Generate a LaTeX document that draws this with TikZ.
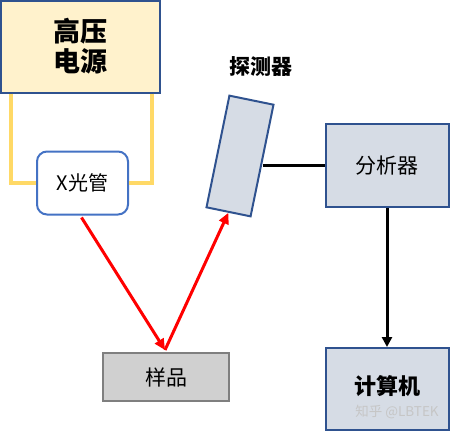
\documentclass[tikz,border=0pt]{standalone}
\usepackage{fontspec}
\newfontfamily\cjk{Noto Sans CJK SC}
\usetikzlibrary{arrows.meta,calc}
\definecolor{hvfill}{HTML}{FFF2CC}
\definecolor{navy}{HTML}{2F528F}
\definecolor{tubeblue}{HTML}{4472C4}
\definecolor{bluegray}{HTML}{D6DCE5}
\definecolor{samplefill}{HTML}{D0D0D0}
\definecolor{samplebd}{HTML}{7F7F7F}
\definecolor{wirey}{HTML}{FFD966}
\definecolor{rayred}{HTML}{FF0000}
\tikzset{
  box/.style={draw=navy, line width=2pt, fill=bluegray, inner sep=0pt,
    font=\cjk\fontsize{21}{24}\selectfont},
  wire/.style={draw=wirey, line width=3.5pt},
  ray/.style={draw=rayred, line width=3pt, -{Triangle[length=11pt,width=10pt]}},
  link/.style={draw=black, line width=3pt},
}
\begin{document}
\begin{tikzpicture}[x=1pt,y=-1pt]
\useasboundingbox (0,0) rectangle (450,432);
% boxes
\node[box, fill=hvfill, minimum width=159pt, minimum height=92pt, align=center,
  font=\cjk\bfseries\fontsize{27}{30}\selectfont] (hv) at (80.5,46.5) {高压\\电源};
\node[box, draw=tubeblue, fill=white, rounded corners=10pt, minimum width=91pt,
  minimum height=63pt, font=\cjk\fontsize{20}{24}\selectfont] (tube) at (82.5,183) {X光管};
\node[box, minimum width=45pt, minimum height=114pt, rotate=-11.6] (det) at (240,156) {};
\node[font=\cjk\bfseries\fontsize{21}{24}\selectfont] (detlbl) at (261,67) {探测器};
\node[box, minimum width=123pt, minimum height=83pt] (ana) at (387,165.5) {分析器};
\node[box, minimum width=123pt, minimum height=82pt] (comp) at (387,389) {};
\node[font=\cjk\bfseries\fontsize{22}{25}\selectfont] (complbl) at (387,386) {计算机};
\node[box, draw=samplebd, fill=samplefill, minimum width=126pt, minimum height=48pt]
  (sample) at (166,377) {样品};
\node[font=\cjk\fontsize{13.5}{15}\selectfont, text=gray!45] (wm) at (397,412) {知乎 @LBTEK};
% wires
\draw[wire] ($(hv.south west)+(11,0)$) |- (tube.west);
\draw[wire] ($(hv.south east)+(-9,0)$) |- (tube.east);
% links
\draw[link] (ana.west) -- (ana.west -| det.east);
\draw[link, -{Triangle[length=10pt,width=10pt]}] (ana.south) -- (comp.north);
% rays
\draw[ray] ($(tube.south)+(-1,2)$) -- ($(sample.north)+(-1,-2)$);
\draw[ray] ($(sample.north)+(-1,-2)$) -- (det.south);
\end{tikzpicture}
\end{document}
